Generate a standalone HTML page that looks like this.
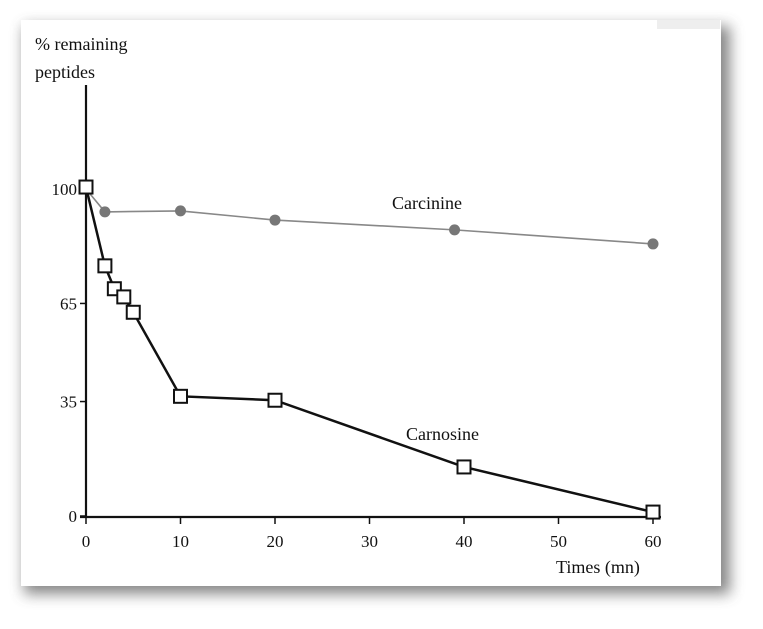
<!DOCTYPE html>
<html><head><meta charset="utf-8"><style>
body{margin:0;background:#fff;width:763px;height:629px;overflow:hidden}
svg{display:block}
text{font-family:"Liberation Serif",serif;fill:#111}
</style></head><body>
<svg id="chart" width="763" height="629" viewBox="0 0 763 629">
<defs>
<filter id="sh" x="-10%" y="-10%" width="120%" height="120%"><feGaussianBlur stdDeviation="7"/></filter>
</defs>
<rect x="24" y="26" width="706" height="568" fill="#555" opacity="0.7" filter="url(#sh)"/>
<rect x="21" y="20" width="700" height="566" fill="#fff"/>
<rect x="657" y="20" width="63" height="9" fill="#eee"/>
<g id="axes"></g>
<g id="marks"></g>
<text x="35" y="50" font-size="18">% remaining</text>
<text x="35" y="78" font-size="18">peptides</text>
<text x="556" y="573" font-size="18">Times (mn)</text>
<text x="392" y="209" font-size="18">Carcinine</text>
<text x="406" y="440" font-size="18">Carnosine</text>
</svg>
<script>
const xTicks=[0,10,20,30,40,50,60];
const yTicks=[0,35,65,100];
const carcinineX=[0,2,10,20,39,60];
const carcinineY=[100,93,93.3,90.5,87.5,83.2];
const carnosineX=[0,2,3,4,5,10,20,40,60];
const carnosineY=[100.6,76.5,69.5,67,62.3,36.6,35.4,15,1.2];

const NS='http://www.w3.org/2000/svg';
const X=v=>86+v*9.45;
const Y=v=>516-v*3.27;
function mk(tag,attrs,parent){const e=document.createElementNS(NS,tag);for(const k in attrs)e.setAttribute(k,attrs[k]);parent.appendChild(e);return e;}
const axes=document.getElementById('axes'),marks=document.getElementById('marks');
let e=mk('line',{x1:86,y1:85,x2:86,y2:518,stroke:'#111','stroke-width':2.2},axes);


e=mk('line',{x1:80,y1:517,x2:X(60)+8,y2:517,stroke:'#111','stroke-width':2.2},axes);


xTicks.forEach(t=>{
  let l=mk('line',{x1:X(t),y1:517,x2:X(t),y2:524,stroke:'#111','stroke-width':1.5},axes);
  
  
  let tx=mk('text',{x:X(t),y:547,'font-size':17,'text-anchor':'middle'},axes);tx.textContent=t;
  
  
});
yTicks.forEach(t=>{
  let l=mk('line',{x1:80,y1:Y(t),x2:86,y2:Y(t),stroke:'#111','stroke-width':1.5},axes);
  
  
  let tx=mk('text',{x:77,y:Y(t)+6,'font-size':17,'text-anchor':'end'},axes);tx.textContent=t;
  
  
});
let p=mk('polyline',{points:carcinineX.map((x,i)=>X(x)+','+Y(carcinineY[i])).join(' '),fill:'none',stroke:'#888','stroke-width':1.6},marks);


carcinineX.slice(1).forEach((x,i)=>{
  let c=mk('circle',{cx:X(x),cy:Y(carcinineY[i+1]),r:5.5,fill:'#777'},marks);
  
  
});
p=mk('polyline',{points:carnosineX.map((x,i)=>X(x)+','+Y(carnosineY[i])).join(' '),fill:'none',stroke:'#111','stroke-width':2.5},marks);


carnosineX.forEach((x,i)=>{
  let r=mk('rect',{x:X(x)-6.5,y:Y(carnosineY[i])-6.5,width:13,height:13,fill:'#fff',stroke:'#111','stroke-width':2},marks);
  
  
});
</script>
</body></html>
